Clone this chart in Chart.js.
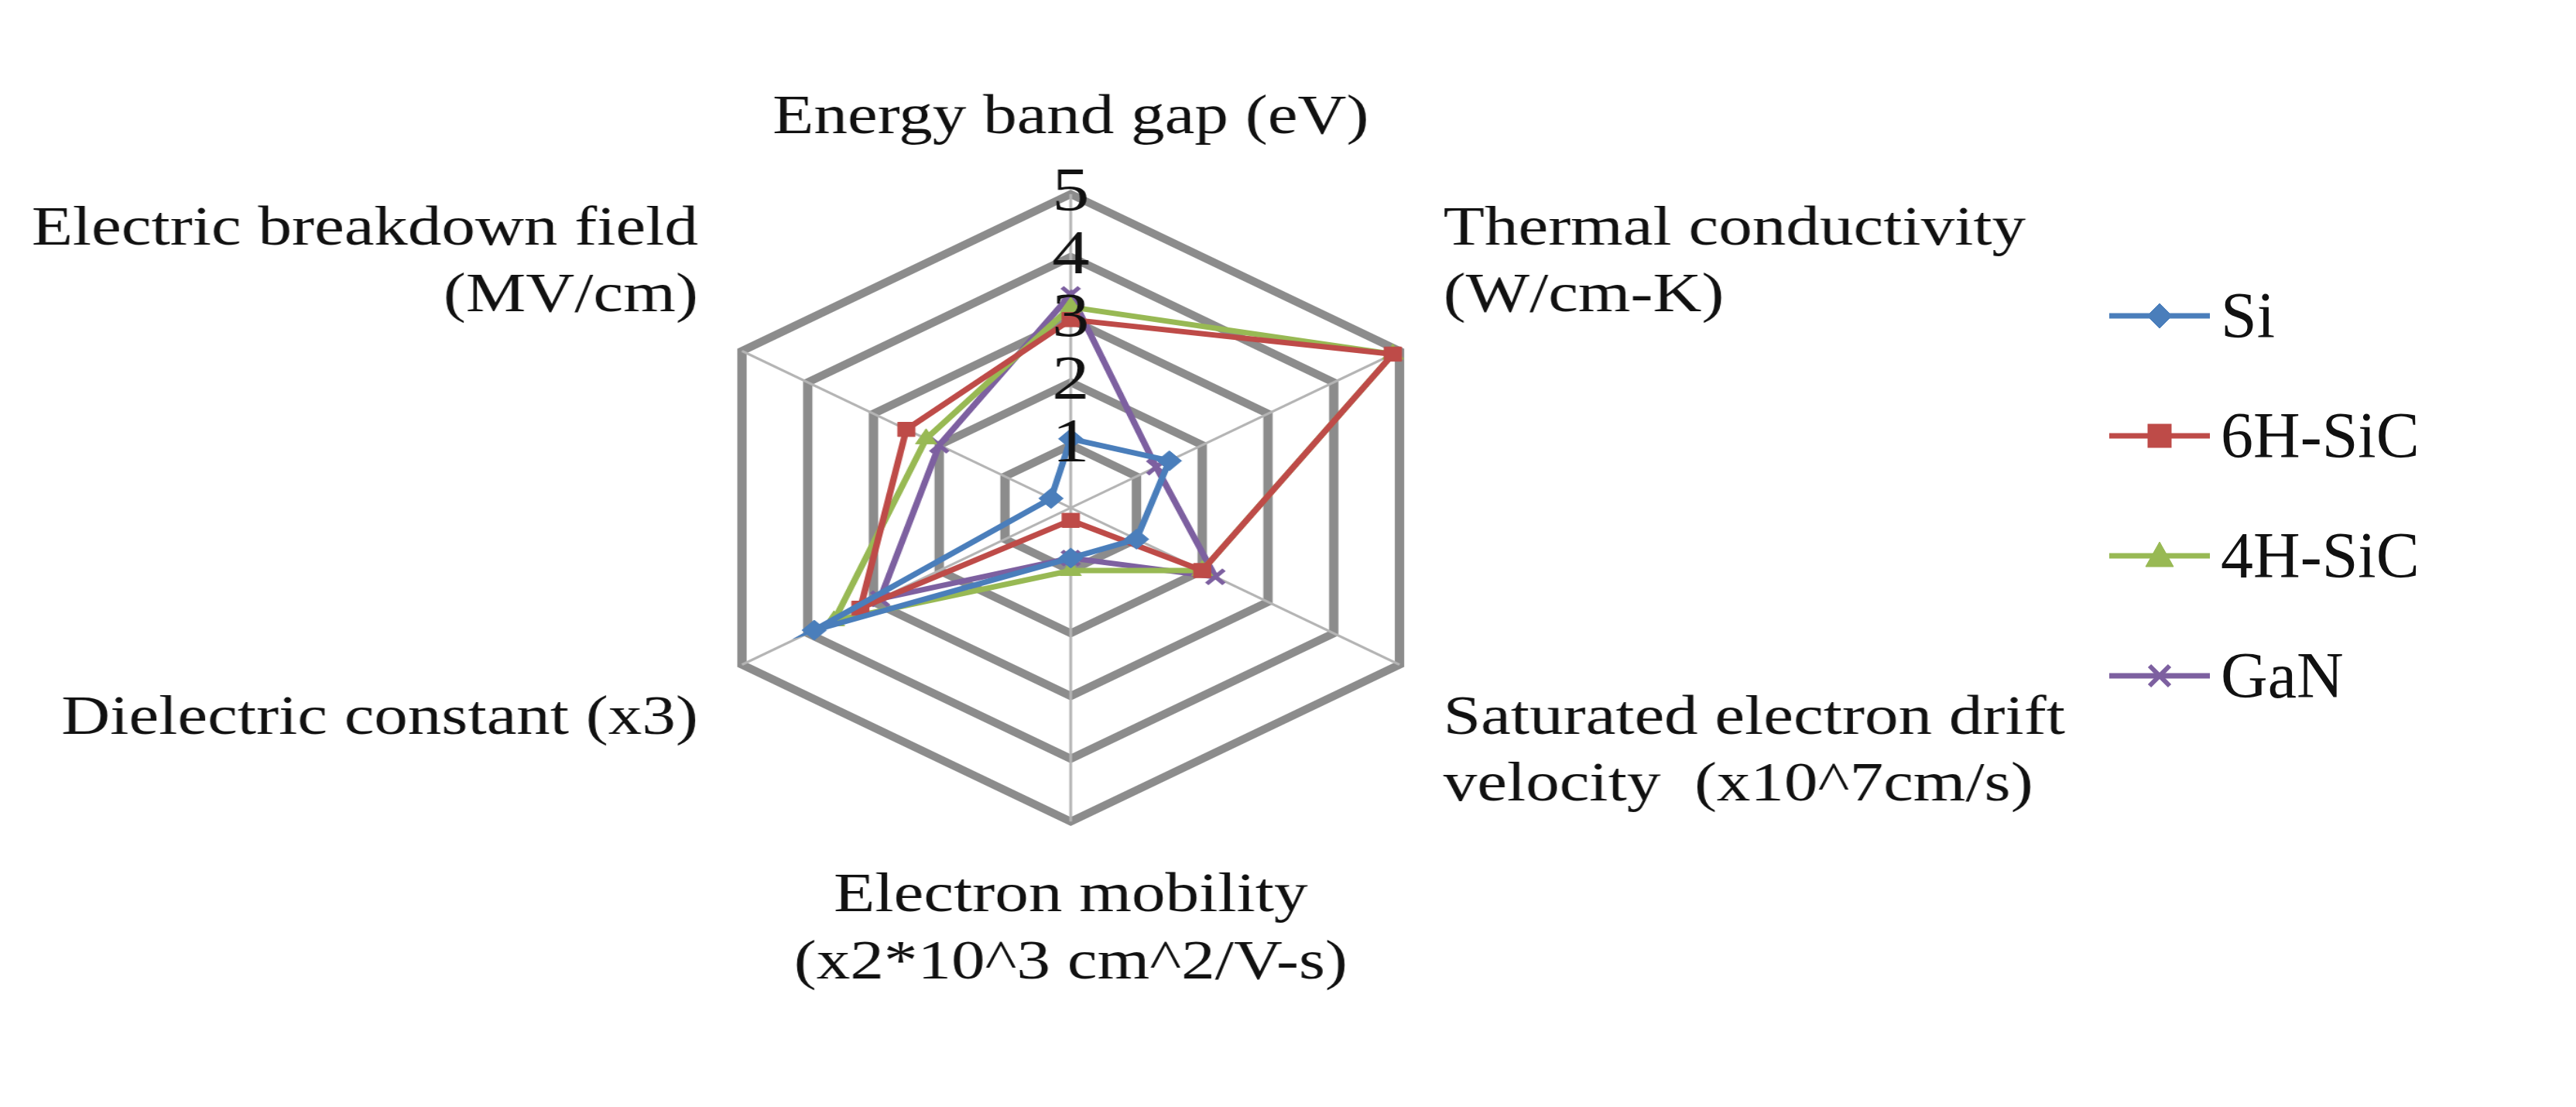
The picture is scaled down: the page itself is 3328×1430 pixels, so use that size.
<!DOCTYPE html>
<html>
<head>
<meta charset="utf-8">
<script src="https://cdn.jsdelivr.net/npm/chart.js@4.4.1/dist/chart.umd.min.js"></script>
<style>
  body { margin: 0; background: #fff; width: 3328px; height: 1430px; position: relative; overflow: hidden; }
  #radar { position: absolute; left: 0; top: 0; width: 2700px; height: 1430px; }
  #legend { position: absolute; left: 2725px; top: 330px; font-family: "Liberation Serif", serif; font-size: 84px; color: #111; }
  .item { display: flex; align-items: center; height: 155px; }
  .item svg { width: 130px; height: 60px; margin-right: 14px; }
</style>
</head>
<body>
<canvas id="radar" width="2231" height="1430" style="width:2700px;height:1430px"></canvas>
<div id="legend"></div>
<script>
// axes and series
const categories = [
    "Energy band gap (eV)",
    ["Thermal conductivity", "(W/cm-K)"],
    ["Saturated electron drift", "velocity  (x10^7cm/s)"],
    ["Electron mobility", "(x2*10^3 cm^2/V-s)"],
    "Dielectric constant (x3)",
    ["Electric breakdown field", "(MV/cm)"]
];
const seriesNames = ["Si", "6H-SiC", "4H-SiC", "GaN"];
const si    = [1.1, 1.5, 1.0, 0.8, 3.9, 0.3];
const sic6h = [3.0, 4.9, 2.0, 0.2, 3.2, 2.5];
const sic4h = [3.2, 4.9, 2.0, 1.0, 3.6, 2.2];
const gan   = [3.4, 1.3, 2.2, 0.8, 2.9, 2.0];
const tickValues = [0, 1, 2, 3, 4, 5];

const colors = ["#4a7ebb", "#be4b48", "#98b954", "#7d60a0"];
const shapes = ["rectRot", "rect", "triangle", "crossRot"];
const allValues = [si, sic6h, sic4h, gan];

new Chart(document.getElementById("radar"), {
    type: "radar",
    data: {
        labels: categories,
        datasets: allValues.map((vals, i) => ({
            label: seriesNames[i],
            data: vals,
            borderColor: colors[i],
            backgroundColor: colors[i],
            borderWidth: 7,
            fill: false,
            pointStyle: shapes[i],
            pointRadius: 13,
            pointBorderWidth: i === 3 ? 5 : 1,
            pointBorderColor: colors[i]
        }))
    },
    options: {
        responsive: false,
        animation: false,
        layout: { padding: { top: 20, bottom: 50 } },
        plugins: { legend: { display: false }, tooltip: { enabled: false } },
        scales: {
            r: {
                min: 0,
                max: 5,
                afterBuildTicks: s => { s.ticks = tickValues.map(v => ({ value: v })); },
                ticks: {
                    color: "#111",
                    font: { family: "Liberation Serif", size: 80 },
                    showLabelBackdrop: false,
                    z: 1
                },
                grid: { circular: false, color: "#8c8c8c", lineWidth: 10 },
                angleLines: { color: "#b4b4b4", lineWidth: 3 },
                pointLabels: {
                    color: "#111",
                    font: { family: "Liberation Serif", size: 72 },
                    padding: 12
                }
            }
        }
    }
});

// legend
const legend = document.getElementById("legend");
const marks = [
    '<polygon points="65,14 81,30 65,46 49,30" />',
    '<rect x="50" y="15" width="30" height="30" />',
    '<polygon points="65,12 83,44 47,44" />',
    '<path d="M52,17 L78,43 M78,17 L52,43" stroke-width="6" fill="none" />'
];
seriesNames.forEach((name, i) => {
    const d = document.createElement("div");
    d.className = "item";
    d.innerHTML = '<svg viewBox="0 0 130 60"><line x1="0" y1="30" x2="130" y2="30" stroke="' + colors[i] +
        '" stroke-width="7"/><g fill="' + colors[i] + '" stroke="' + colors[i] + '">' + marks[i] + '</g></svg>' + name;
    legend.appendChild(d);
});
</script>
</body>
</html>
